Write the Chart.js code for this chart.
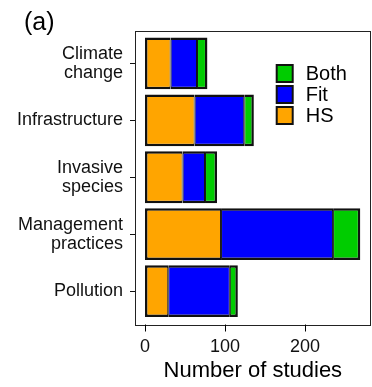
<!DOCTYPE html>
<html>
<head>
<meta charset="utf-8">
<script src="https://cdn.jsdelivr.net/npm/chart.js@4"></script>
<style>
  html, body { margin: 0; padding: 0; background: #fff; }
  #wrap { width: 372px; height: 387px; position: relative; }
</style>
</head>
<body>
<div id="wrap"><canvas id="c" width="372" height="387"></canvas></div>
<script>
const categories = [["Climate", "change"], "Infrastructure", ["Invasive", "species"], ["Management", "practices"], "Pollution"];
const hsValues   = [32, 62, 47, 95, 29];
const fitValues  = [33, 62, 28, 140, 77];
const bothValues = [13, 12, 15, 34, 10];
const xTickValues = [0, 100, 200];
const seriesNames = ["HS", "Fit", "Both"];
const panelLabel = "(a)";
const xTitle = "Number of studies";

const FONT = "'Liberation Sans', Arial, sans-serif";

const framePlugin = {
  id: 'frame',
  afterDraw(chart) {
    const ctx = chart.ctx;
    const a = chart.chartArea;
    const padV = 4.5;
    const top = a.top - padV, bottom = a.bottom + padV;
    ctx.save();
    // panel frame
    ctx.strokeStyle = '#222';
    ctx.lineWidth = 1;
    ctx.strokeRect(Math.round(a.left) + 0.5, Math.round(top) + 0.5, Math.round(a.right - a.left) - 1, Math.round(bottom - top));
    // x tick marks
    const xs = chart.scales.x;
    ctx.beginPath();
    xs.ticks.forEach(t => {
      const px = Math.round(xs.getPixelForValue(t.value)) + 0.5;
      ctx.moveTo(px, Math.round(bottom) + 0.5);
      ctx.lineTo(px, Math.round(bottom) + 7.5);
    });
    ctx.strokeStyle = '#000';
    ctx.stroke();
    // panel label
    ctx.fillStyle = '#000';
    ctx.font = '25px ' + FONT;
    ctx.textBaseline = 'alphabetic';
    ctx.textAlign = 'left';
    ctx.fillText(panelLabel, 24, 30);
    // legend (reverse order)
    const ds = chart.data.datasets.slice().reverse();
    const lx = a.right - 94, ly = 65, step = 21, bw = 16, bh = 17;
    ctx.font = '20px ' + FONT;
    ctx.textBaseline = 'middle';
    ds.forEach((d, i) => {
      const y = ly + i * step;
      ctx.fillStyle = d.backgroundColor;
      ctx.fillRect(lx, y, bw, bh);
      ctx.lineWidth = 2;
      ctx.strokeStyle = '#111';
      ctx.strokeRect(lx, y, bw, bh);
      ctx.fillStyle = '#000';
      ctx.fillText(d.label, lx + bw + 13, y + bh / 2 + 1);
    });
    ctx.restore();
  }
};

const mkBorder = (l, r) => ({ top: 2.5, bottom: 2.5, left: l, right: r });

new Chart(document.getElementById('c'), {
  type: 'bar',
  data: {
    labels: categories,
    datasets: [
      { label: seriesNames[0], data: hsValues,   backgroundColor: '#FFA500', borderColor: '#111', borderWidth: mkBorder(2.5, 1), borderSkipped: false },
      { label: seriesNames[1], data: fitValues,  backgroundColor: '#0000FF', borderColor: '#111', borderWidth: mkBorder(1, 1), borderSkipped: false },
      { label: seriesNames[2], data: bothValues, backgroundColor: '#00CC00', borderColor: '#111', borderWidth: mkBorder(1, 2.5), borderSkipped: false }
    ]
  },
  options: {
    indexAxis: 'y',
    responsive: false,
    animation: false,
    devicePixelRatio: 1,
    layout: { padding: { top: 35, right: 1.3, left: 0, bottom: 0 } },
    datasets: { bar: { barPercentage: 0.91, categoryPercentage: 1 } },
    plugins: { legend: { display: false }, tooltip: { enabled: false }, title: { display: false } },
    scales: {
      x: {
        stacked: true,
        min: -12.5,
        max: 282,
        afterBuildTicks: s => { s.ticks = xTickValues.map(v => ({ value: v })); },
        afterFit: s => { s.height = 67.5; },
        grid: { display: false, drawTicks: false },
        border: { display: false },
        ticks: { color: '#111', font: { size: 18, family: FONT }, padding: 17, maxRotation: 0, autoSkip: false },
        title: { display: true, text: xTitle, color: '#000', font: { size: 22, family: FONT }, padding: { top: 0, bottom: 3 } }
      },
      y: {
        stacked: true,
        afterFit: s => { s.width = 135; },
        grid: { drawOnChartArea: false, offset: false, drawTicks: true, tickLength: 5, color: '#111', lineWidth: 1 },
        border: { display: false },
        ticks: { color: '#111', font: { size: 18, family: FONT, lineHeight: 1.05 }, padding: 7, autoSkip: false, crossAlign: 'near' }
      }
    }
  },
  plugins: [framePlugin]
});
</script>
</body>
</html>
